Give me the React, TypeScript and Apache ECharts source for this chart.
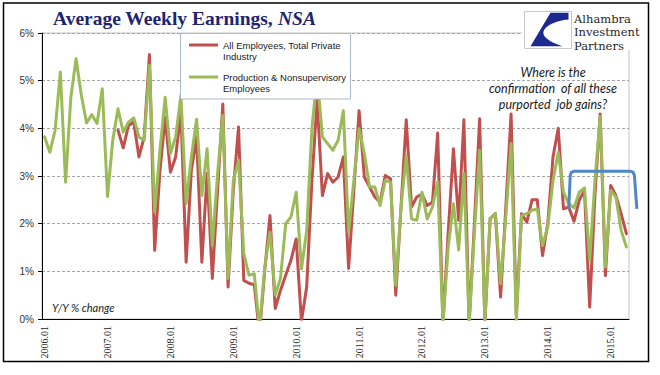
import React, { useEffect, useRef } from "react";
import * as echarts from "echarts";

// Monthly categories 2006.01 .. 2015.04
const months: string[] = [];
for (let y = 2006; y <= 2015; y++) {
  for (let m = 1; m <= 12; m++) {
    if (y === 2015 && m > 4) break;
    months.push(`${y}.${String(m).padStart(2, "0")}`);
  }
}

// Y/Y % change, All Employees, Total Private Industry (starts 2007.03)
const allEmployees: (number | null)[] = [
  null, null, null, null, null, null, null, null, null, null, null, null, null, null,
  3.96, 3.59, 4.06, 4.13, 3.40, 3.82, 5.55, 1.44, 3.10, 4.23,
  3.08, 3.40, 4.34, 1.19, 3.12, 3.82, 1.19, 3.05, 0.85, 2.70,
  4.51, 0.67, 2.70, 4.03, 0.81, 0.75, 0.72, -0.30, 1.02, 2.17,
  0.22, 0.60, 0.92, 1.23, 1.68, -0.05, 0.67, 2.90, 4.60, 2.59,
  3.05, 2.87, 2.98, 3.40, 1.06, 2.70, 4.37, 2.98, 2.77, 2.56,
  2.45, 3.01, 2.94, 0.50, 2.35, 4.18, 2.35, 2.56, 2.62, 2.38,
  2.45, 3.90, -0.10, 1.80, 3.57, 2.07, 4.18, -0.10, 2.00, 4.20,
  -0.10, 2.10, 2.21, 0.46, 2.35, 4.30, 0.10, 2.21, 2.03, 2.50,
  2.50, 1.33, 2.00, 3.40, 4.00, 2.31, 2.35, 2.05, 2.49, 2.70,
  0.25, 2.60, 4.30, 0.91, 2.80, 2.59, 2.21, 1.79,
];

// Y/Y % change, Production & Nonsupervisory Employees
const production: number[] = [
  3.82, 3.50, 3.96, 5.18, 2.87, 4.65, 5.46, 4.70, 4.11, 4.29,
  4.10, 4.83, 2.57, 3.75, 4.41, 3.92, 4.13, 4.22, 3.82, 3.75,
  5.32, 2.24, 3.54, 4.65, 3.47, 3.82, 4.69, 2.42, 3.40, 4.19,
  2.59, 3.57, 1.54, 3.05, 4.27, 0.85, 2.91, 3.33, 1.37, 0.92,
  0.95, -0.20, 1.09, 1.82, 0.50, 0.85, 2.00, 2.14, 2.66, 1.05,
  1.85, 4.00, 5.10, 3.82, 3.68, 3.54, 3.75, 4.37, 1.82, 2.90,
  3.99, 3.47, 2.77, 2.77, 2.38, 2.91, 2.87, 0.71, 2.35, 3.43,
  2.10, 2.07, 2.66, 2.10, 2.35, 2.87, -0.10, 1.50, 2.42, 1.45,
  3.05, -0.10, 1.80, 3.54, -0.05, 2.10, 2.21, 0.74, 2.14, 3.68,
  -0.05, 2.17, 2.21, 2.28, 2.31, 1.54, 1.93, 2.90, 3.50, 2.66,
  2.42, 2.33, 2.66, 2.75, 1.23, 2.90, 4.25, 1.09, 2.70, 2.56,
  1.86, 1.51,
];

const seriesNames = [
  "All Employees, Total Private\nIndustry",
  "Production & Nonsupervisory\nEmployees",
];
const annotationLines = ["Where is the", "confirmation  of all these", "purported  job gains?"];
const logoLines = ["Alhambra", "Investment", "Partners"];

// bracket annotation: category index span and value levels
const bracketStart = 100;
const bracketEnd = 113;
const bracketTop = 3.1;
const bracketBottom = 2.31;

const LOGO_D = "M26,1.3 L44,1.3 L44,8 C28,9 0,22 38,34.7 L6,34.7 Z";
let registered = false;

export default function App() {
  const ref = useRef<HTMLDivElement>(null);
  useEffect(() => {
    document.body.style.margin = "0";
    if (!registered) {
      echarts.graphic.registerShape("logo", echarts.graphic.extendPath(LOGO_D, {}) as any);
      registered = true;
    }
    const chart = echarts.init(ref.current!, undefined, { renderer: "svg" });
    const option: any = {
      animation: false,
      backgroundColor: "#ffffff",
      title: {
        text: "{a|Average Weekly Earnings, }{b|NSA}",
        left: 48,
        top: 3,
        textStyle: {
          rich: {
            a: { fontFamily: "Liberation Serif", fontSize: 19.5, color: "#1f2470" },
            b: { fontFamily: "Liberation Serif", fontSize: 19.5, color: "#1f2470", fontStyle: "italic" },
          },
        },
      },
      grid: {
        left: 42,
        right: 31,
        top: 33,
        bottom: 56,
        show: true,
        borderColor: "#c4c4c4",
        borderWidth: 1,
        backgroundColor: "transparent",
      },
      legend: {
        orient: "vertical",
        left: 189,
        top: 39.5,
        padding: 0,
        itemGap: 10,
        itemWidth: 29,
        itemHeight: 22,
        icon: "path://M0,0h0.01v0.01h-0.01z M0,4h29v3h-29z M28.99,22h0.01v-0.01h-0.01z",
        itemStyle: { borderWidth: 0 },
        textStyle: { fontFamily: "Liberation Sans", fontSize: 9.5, lineHeight: 11, color: "#1a1a1a" },
        data: seriesNames,
        z: 6,
      },
      xAxis: {
        type: "category",
        data: months,
        boundaryGap: true,
        axisLine: { lineStyle: { color: "#000", width: 1 } },
        axisTick: { interval: 11, length: 4, lineStyle: { color: "#000" } },
        axisLabel: {
          interval: 11,
          rotate: 90,
          margin: 7,
          fontFamily: "Liberation Serif",
          fontSize: 10,
          color: "#222",
        },
        splitLine: { show: false },
      },
      yAxis: {
        type: "value",
        min: 0,
        max: 6,
        interval: 1,
        axisLine: { show: true, lineStyle: { color: "#000", width: 1 } },
        axisTick: { show: true, length: 4, lineStyle: { color: "#000" } },
        axisLabel: {
          formatter: "{value}%",
          margin: 8,
          fontFamily: "Liberation Sans",
          fontSize: 10,
          color: "#333",
        },
        splitLine: { show: true, lineStyle: { color: "#a6a6a6", type: [3, 2], width: 1 } },
      },
      series: [
        {
          name: seriesNames[0],
          type: "line",
          data: allEmployees,
          symbol: "none",
          color: "#c0504d",
          lineStyle: { width: 3, color: "#c0504d", cap: "round", join: "round" },
          z: 2,
        },
        {
          name: seriesNames[1],
          type: "line",
          data: production,
          symbol: "none",
          color: "#9bbb59",
          lineStyle: { width: 3, color: "#9bbb59", cap: "round", join: "round" },
          z: 3,
        },
      ],
      graphic: {
        elements: [
          {
            id: "frame",
            type: "rect",
            shape: { x: 3.5, y: 3, width: 645, height: 358.5 },
            style: { fill: "none", stroke: "#000", lineWidth: 1.5 },
            z: 10,
          },
          {
            id: "legendBg",
            type: "rect",
            shape: { x: 180.5, y: 33.5, width: 170, height: 65.5 },
            style: { fill: "#fff", stroke: "#a9bacd", lineWidth: 1 },
            z: 4,
          },
          {
            id: "logoBg",
            type: "rect",
            shape: { x: 522, y: 5, width: 124, height: 45 },
            style: { fill: "#fff" },
            z: 5,
          },
          {
            id: "logoBox",
            type: "rect",
            shape: { x: 524.5, y: 11.5, width: 47, height: 37 },
            style: { fill: "#fff", stroke: "#c8c8c8", lineWidth: 1 },
            z: 6,
          },
          {
            id: "logoMark",
            type: "logo",
            x: 524.5,
            y: 11.5,
            scaleX: 1,
            scaleY: 1,
            style: { fill: "#1c2a8f" },
            z: 7,
          },
          {
            id: "logoText",
            type: "text",
            x: 574,
            y: 12,
            style: {
              text: logoLines.join("\n"),
              fontFamily: "DejaVu Serif",
              fontSize: 11.5,
              lineHeight: 13.6,
              fill: "#262626",
              verticalAlign: "top",
              align: "left",
            },
            z: 7,
          },
          ...annotationLines.map((t, k) => ({
            id: "note" + k,
            type: "text",
            x: 553,
            y: 72 + k * 16.3,
            style: {
              text: t,
              fontFamily: "Lato",
              fontStyle: "italic",
              fontSize: 12.5,
              fill: "#1a1a1a",
              verticalAlign: "middle",
              align: "center",
            },
            z: 7,
          })),
          {
            id: "yoy",
            type: "text",
            x: 52,
            y: 307.5,
            style: {
              text: "Y/Y % change",
              fontFamily: "Lato",
              fontStyle: "italic",
              fontSize: 11,
              fill: "#1a1a1a",
              verticalAlign: "middle",
              align: "left",
            },
            z: 7,
          },
        ],
      },
    };
    chart.setOption(option);

    const px = (i: number, v: number) =>
      chart.convertToPixel({ xAxisIndex: 0, yAxisIndex: 0 }, [i, v]) as number[];
    const a = px(bracketStart, bracketTop);
    const b = px(111, bracketTop);
    const bottomPt = px(bracketStart, bracketBottom);
    const step = (b[0] - a[0]) / (111 - bracketStart);
    const xL = a[0];
    const xR = a[0] + step * (bracketEnd - bracketStart);
    const yT = a[1];
    const yB = bottomPt[1];
    const r = 4;
    chart.setOption({
      graphic: {
        elements: [
          {
            id: "bracket",
            type: "polyline",
            shape: {
              points: [
                [xL, yB],
                [xL + 1.5, yT + r],
                [xL + 1.5 + r * 0.3, yT + r * 0.3],
                [xL + 1.5 + r, yT],
                [xR - 2.5 - r, yT],
                [xR - 2.5 - r * 0.3, yT + r * 0.3],
                [xR - 2.5, yT + r],
                [xR, yB],
              ],
            },
            style: { stroke: "#4f86c6", lineWidth: 3, fill: "none", lineJoin: "round" },
            z: 8,
          },
        ],
      },
    });

    return () => chart.dispose();
  }, []);
  return <div ref={ref} style={{ width: 660, height: 375 }} />;
}
